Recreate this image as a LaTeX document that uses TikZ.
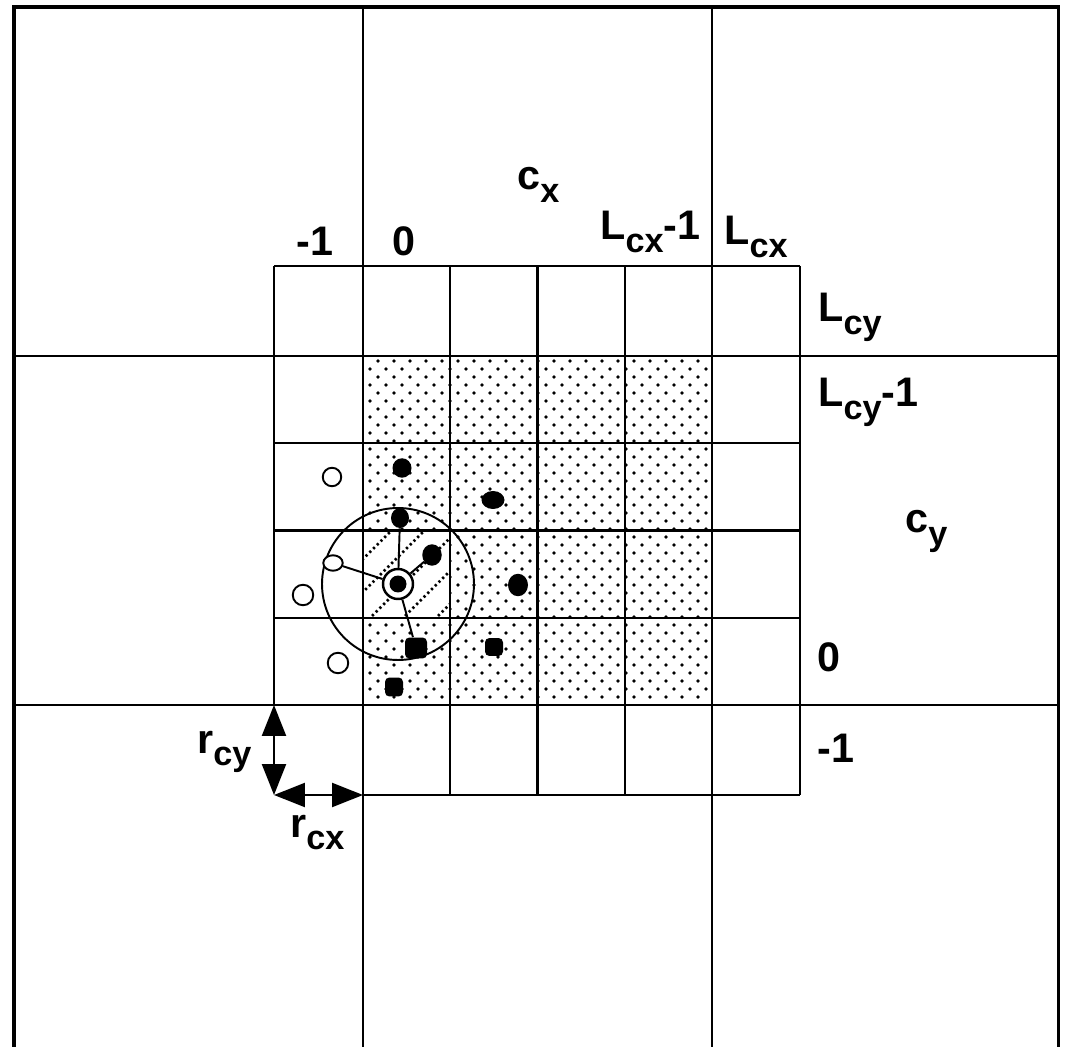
\documentclass[tikz,border=0pt]{standalone}
\usepackage{fontspec}
\setmainfont{Liberation Sans}
\usetikzlibrary{arrows.meta,shapes.geometric}
\newcommand\lbsub[1]{\raisebox{-7pt}{\fontsize{19.5}{19.5}\selectfont #1}}
\begin{document}
\begin{tikzpicture}[x=0.02cm,y=-0.02cm,
  frame/.style={line width=1.8pt},
  bigline/.style={line width=1.3pt},
  gridline/.style={line width=1.3pt},
  hatch/.style={line width=1.5pt,dash pattern=on 1.3pt off 1.7pt},
  conn/.style={line width=1.1pt},
  blk/.style={ellipse,fill=black,inner sep=0pt},
  blksq/.style={rectangle,rounded corners=2.5pt,fill=black,inner sep=0pt},
  opn/.style={ellipse,draw=black,fill=white,line width=1.1pt,inner sep=0pt},
  lbl/.style={anchor=base west,inner sep=0pt,font=\fontsize{23.5}{26}\selectfont\bfseries},
  dblarrow/.style={{Triangle[length=0.62cm,width=0.48cm]}-{Triangle[length=0.62cm,width=0.48cm]},line width=1.3pt}]
\useasboundingbox (0,0) rectangle (1066,1047);
% dotted shading of the inner region
\foreach \k in {0,2,...,42}{
  \foreach \j in {0,...,20}{
    \fill (378+16*\j,361+8*\k) circle[radius=0.036cm];
  }
}
\foreach \k in {1,3,...,41}{
  \foreach \j in {0,...,21}{
    \fill (370+16*\j,361+8*\k) circle[radius=0.036cm];
  }
}
% hatched cell
\fill[white] (363,530.5) rectangle (450.25,617.75);
\begin{scope}
  \clip (363,530.5) rectangle (450.25,617.75);
  \foreach \i in {-2,...,2}{
    \draw[hatch] (414+33*\i-150,574+150) -- (414+33*\i+150,574-150);
  }
\end{scope}
% small grid
\draw[gridline] (274,266) -- (800,266);
\foreach \y in {443.25,530.5,617.75}{\draw[gridline] (274,\y) -- (800,\y);}
\draw[gridline] (363,795) -- (800,795);
\draw[gridline] (274,266) -- (274,705);
\foreach \x in {450.25,537.5,624.75,800}{\draw[gridline] (\x,266) -- (\x,795);}
% big grid lines
\draw[bigline] (363,7) -- (363,1047);
\draw[bigline] (712,7) -- (712,1047);
\draw[bigline] (14,356) -- (1058.5,356);
\draw[bigline] (14,705) -- (1058.5,705);
% outer frame
\draw[frame,line join=miter] (14,1047) -- (14,7) -- (1058.5,7) -- (1058.5,1047);
% cut-off circle
\draw[line width=1.1pt] (398,584) circle[radius=1.52cm];
% particles
\node[blk,minimum width=0.38cm,minimum height=0.39cm] (p1) at (402,468) {};
\node[blk,minimum width=0.46cm,minimum height=0.36cm] (p2) at (493,500) {};
\node[blk,minimum width=0.36cm,minimum height=0.40cm] (p3) at (400,518) {};
\node[blk,minimum width=0.39cm,minimum height=0.43cm] (p4) at (432,555) {};
\node[blk,minimum width=0.40cm,minimum height=0.45cm] (p6) at (518,585) {};
\node[blksq,minimum width=0.44cm,minimum height=0.42cm] (p7) at (416,648) {};
\node[blksq,minimum width=0.36cm,minimum height=0.36cm] (p8) at (494,647) {};
\node[blksq,minimum width=0.36cm,minimum height=0.38cm] (p9) at (394,687) {};
\node[opn,minimum width=0.37cm,minimum height=0.37cm] (oa) at (332,477) {};
\node[opn,minimum width=0.39cm,minimum height=0.31cm] (ob) at (333,563) {};
\node[opn,minimum width=0.41cm,minimum height=0.41cm] (oc) at (303,595) {};
\node[opn,minimum width=0.41cm,minimum height=0.41cm] (od) at (338,663) {};
\node[circle,draw=black,fill=white,line width=1.4pt,minimum size=0.6cm,inner sep=0pt] (c0) at (398,584) {};
\fill (c0.center) circle[radius=0.17cm];
% connectors
\draw[conn] (c0) -- (p3);
\draw[conn] (c0) -- (p4);
\draw[conn] (c0) -- (p7);
\draw[conn] (c0) -- (ob);
% labels
\node[lbl] (xm1) at (296,256) {-1};
\node[lbl] (x0) at (392,256) {0};
\node[lbl] (cx) at (517,190) {c\lbsub{x}};
\node[lbl] (lcxm1) at (600,240) {L\lbsub{cx}-1};
\node[lbl] (lcx) at (724,245) {L\lbsub{cx}};
\node[lbl] (lcy) at (818,322) {L\lbsub{cy}};
\node[lbl] (lcym1) at (818,407) {L\lbsub{cy}-1};
\node[lbl] (cy) at (905,533) {c\lbsub{y}};
\node[lbl] (y0) at (817,672) {0};
\node[lbl] (ym1) at (817,763) {-1};
\node[lbl] (rcy) at (197,753) {r\lbsub{cy}};
\node[lbl] (rcx) at (290,837) {r\lbsub{cx}};
% cell size arrows
\coordinate (ac) at (274,795);
\coordinate (at) at (274,705);
\coordinate (ar) at (363,795);
\draw[dblarrow] (at) -- (ac);
\draw[dblarrow] (ac) -- (ar);
\end{tikzpicture}
\end{document}
